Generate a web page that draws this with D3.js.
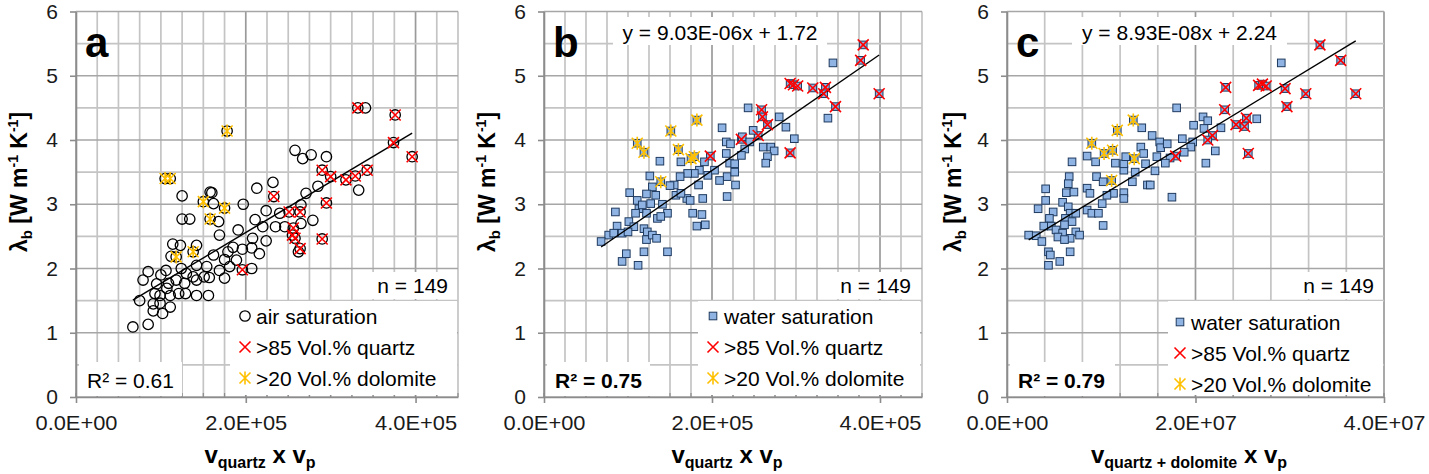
<!DOCTYPE html>
<html>
<head>
<meta charset="utf-8">
<script src="https://cdn.jsdelivr.net/npm/d3@7"></script>
<style>
body { margin: 0; background: #fff; }
svg { font-family: "Liberation Sans", Arial, sans-serif; }
</style>
</head>
<body>
<svg width="1429" height="474"></svg>
<script>
// ---- data ----
// panel a: air saturation, x = v_quartz * v_p
var airA = [[341e3,4.50],[332e3,4.50],[376e3,4.39],[178e3,4.14],[258e3,3.84],[267e3,3.71],[277e3,3.77],[295e3,3.74],[374e3,3.96],[396e3,3.74],
  [105e3,3.40],[111e3,3.40],[290e3,3.53],[300e3,3.43],[318e3,3.38],[329e3,3.44],[343e3,3.53],[333e3,3.22],[232e3,3.34],[233e3,3.12],
  [213e3,3.25],[125e3,3.13],[158e3,3.19],[160e3,3.18],[285e3,3.28],[271e3,3.17],[150e3,3.04],[162e3,3.01],[175e3,2.94],[197e3,3.00],
  [295e3,3.02],[265e3,2.99],[251e3,2.88],[264e3,2.88],[125e3,2.77],[134e3,2.77],[158e3,2.77],[168e3,2.73],[224e3,2.90],[240e3,2.86],
  [279e3,2.75],[211e3,2.76],[220e3,2.65],[235e3,2.65],[246e3,2.65],[256e3,2.63],[265e3,2.70],[169e3,2.52],[191e3,2.60],[255e3,2.52],
  [258e3,2.47],[264e3,2.31],[262e3,2.26],[290e3,2.46],[208e3,2.47],[224e3,2.43],[207e3,2.32],[196e3,2.30],[216e3,2.23],[207e3,2.00],
  [196e3,1.98],[185e3,2.33],[179e3,2.26],[175e3,2.14],[189e3,2.13],[181e3,2.03],[175e3,1.85],[162e3,2.21],[154e3,2.03],[157e3,1.86],
  [156e3,1.58],[142e3,2.05],[138e3,1.87],[142e3,1.58],[129e3,1.61],[114e3,2.38],[123e3,2.36],[142e3,2.36],[112e3,2.19],[118e3,2.18],
  [138e3,2.26],[124e3,2.00],[118e3,1.82],[128e3,1.77],[121e3,1.61],[106e3,1.97],[100e3,1.90],[85e3,1.95],[79e3,1.82],[95e3,1.76],
  [107e3,1.69],[99e3,1.58],[111e3,1.58],[93e3,1.61],[75e3,1.50],[91e3,1.45],[99e3,1.46],[111e3,1.40],[91e3,1.34],[102e3,1.30],
  [85e3,1.13],[67e3,1.09],[142e3,1.82],[151e3,1.87],[169e3,1.97],[109e3,1.77],[130e3,1.92]];
var quartzA = [[332e3,4.50],[376e3,4.39],[374e3,3.96],[396e3,3.74],[290e3,3.53],[300e3,3.43],[318e3,3.38],[329e3,3.44],[343e3,3.53],[233e3,3.12],
  [295e3,3.02],[251e3,2.88],[264e3,2.88],[256e3,2.63],[255e3,2.52],[258e3,2.47],[264e3,2.31],[290e3,2.46],[196e3,1.98]];
var dolomiteA = [[178e3,4.14],[105e3,3.40],[111e3,3.40],[150e3,3.04],[175e3,2.94],[158e3,2.77],[118e3,2.18],[138e3,2.26]];

// panel b: water saturation, x = v_quartz * v_p
var waterB = [[380e3,5.48],[377e3,5.24],[344e3,5.20],[293e3,4.88],[297e3,4.86],[302e3,4.84],[320e3,4.81],[335e3,4.82],[333e3,4.72],[399e3,4.72],
  [347e3,4.52],[338e3,4.34],[243e3,4.50],[259e3,4.47],[260e3,4.36],[266e3,4.24],[280e3,4.36],[288e3,4.20],[298e3,4.02],[293e3,3.80],
  [255e3,4.07],[249e3,4.15],[235e3,4.01],[212e3,4.19],[217e3,3.97],[222e3,3.94],[236e3,4.05],[245e3,3.97],[239e3,3.86],[235e3,3.76],
  [261e3,3.89],[270e3,3.89],[274e3,3.83],[266e3,3.74],[264e3,3.64],[198e3,3.75],[111e3,3.95],[119e3,3.81],[151e3,4.14],[160e3,3.85],
  [182e3,4.31],[175e3,3.71],[179e3,3.74],[139e3,3.35],[217e3,3.79],[221e3,3.64],[227e3,3.63],[218e3,3.43],[227e3,3.50],[203e3,3.53],
  [209e3,3.37],[195e3,3.45],[191e3,3.66],[228e3,3.30],[218e3,3.12],[163e3,3.66],[185e3,3.53],[179e3,3.48],[171e3,3.48],[162e3,3.43],
  [155e3,3.30],[157e3,3.14],[170e3,3.09],[174e3,3.06],[177e3,2.86],[184e3,3.30],[189e3,3.09],[188e3,2.84],[182e3,2.66],[192e3,2.68],
  [138e3,3.67],[126e3,3.44],[129e3,3.27],[122e3,3.16],[133e3,3.14],[127e3,3.01],[141e3,3.00],[147e3,2.86],[135e3,2.78],[139e3,2.81],
  [122e3,2.86],[102e3,3.18],[111e3,3.06],[113e3,2.93],[109e3,2.86],[117e3,2.99],[85e3,2.88],[101e3,2.73],[107e3,2.65],[87e3,2.66],
  [93e3,2.55],[100e3,2.57],[77e3,2.52],[83e3,2.55],[68e3,2.42],[119e3,2.62],[123e3,2.57],[122e3,2.45],[129e3,2.52],[134e3,2.47],
  [98e3,2.23],[93e3,2.11],[119e3,2.26],[112e3,2.05],[147e3,2.26],[163e3,3.17],[150e3,3.29]];
var quartzB = [[380e3,5.48],[377e3,5.24],[293e3,4.88],[297e3,4.86],[302e3,4.84],[320e3,4.81],[335e3,4.82],[333e3,4.72],[399e3,4.72],[347e3,4.52],
  [259e3,4.47],[260e3,4.36],[266e3,4.24],[293e3,3.80],[255e3,4.07],[235e3,4.01],[198e3,3.75]];
var dolomiteB = [[111e3,3.95],[119e3,3.81],[151e3,4.14],[160e3,3.85],[182e3,4.31],[175e3,3.71],[179e3,3.74],[139e3,3.35]];

// panel c: water saturation, x = v_quartz+dolomite * v_p
var waterC = [[33.2e6,5.48],[35.4e6,5.24],[29.1e6,5.20],[23.2e6,4.82],[26.7e6,4.85],[27.1e6,4.87],[27.5e6,4.84],[29.5e6,4.80],[31.7e6,4.72],[37.0e6,4.72],
  [29.7e6,4.52],[23.1e6,4.47],[18.0e6,4.50],[26.5e6,4.33],[25.4e6,4.34],[24.3e6,4.24],[25.2e6,4.21],[22.7e6,4.19],[25.6e6,3.79],[20.8e6,4.36],
  [21.3e6,4.30],[20.9e6,4.18],[21.8e6,4.07],[21.3e6,4.00],[22.1e6,3.83],[21.1e6,3.64],[19.8e6,4.23],[19.7e6,3.97],[19.5e6,3.89],[18.6e6,4.02],
  [18.8e6,3.81],[17.9e6,3.75],[17.3e6,3.72],[16.8e6,3.64],[15.4e6,4.07],[16.2e6,3.97],[16.3e6,3.88],[17.0e6,3.94],[14.3e6,4.19],[14.2e6,3.89],
  [14.5e6,3.79],[15.9e6,3.74],[14.7e6,3.63],[15.7e6,3.52],[14.9e6,3.30],[15.2e6,3.30],[13.3e6,3.35],[13.6e6,3.50],[12.4e6,3.53],[12.4e6,3.63],
  [11.5e6,3.64],[12.6e6,3.74],[11.3e6,3.17],[12.4e6,3.18],[12.4e6,3.09],[9.0e6,3.95],[10.3e6,3.79],[11.2e6,3.84],[11.7e6,4.15],[13.4e6,4.31],
  [13.5e6,3.71],[11.1e6,3.37],[8.5e6,3.75],[9.4e6,3.66],[9.5e6,3.43],[10.2e6,3.35],[8.5e6,3.25],[8.8e6,3.17],[10.6e6,3.14],[10.1e6,3.01],
  [8.5e6,2.91],[9.0e6,2.86],[9.7e6,2.86],[10.2e6,2.67],[6.9e6,3.66],[6.6e6,3.43],[6.5e6,3.32],[6.3e6,3.18],[7.1e6,3.19],[5.9e6,3.03],
  [4.1e6,3.24],[4.1e6,3.06],[3.3e6,2.93],[4.9e6,2.88],[4.5e6,2.78],[6.5e6,2.96],[6.7e6,2.86],[7.3e6,2.86],[6.2e6,2.78],[6.9e6,2.73],
  [6.1e6,2.68],[3.9e6,2.66],[4.7e6,2.66],[5.2e6,2.60],[5.9e6,2.55],[7.3e6,2.57],[5.4e6,2.49],[6.7e6,2.47],[6.1e6,2.45],[7.7e6,2.52],
  [2.3e6,2.52],[3.1e6,2.51],[3.7e6,2.42],[4.4e6,2.26],[4.6e6,2.21],[5.6e6,2.11],[6.7e6,2.26],[4.4e6,2.05],[17.5e6,3.11]];
var quartzC = [[33.2e6,5.48],[35.4e6,5.24],[23.2e6,4.82],[26.7e6,4.85],[27.1e6,4.87],[27.5e6,4.84],[29.5e6,4.80],[31.7e6,4.72],[37.0e6,4.72],[29.7e6,4.52],
  [23.1e6,4.47],[25.4e6,4.34],[24.3e6,4.24],[25.2e6,4.21],[25.6e6,3.79],[21.8e6,4.07],[21.3e6,4.00],[17.9e6,3.75]];
var dolomiteC = [[9.0e6,3.95],[10.3e6,3.79],[11.2e6,3.84],[11.7e6,4.15],[13.4e6,4.31],[13.5e6,3.71],[11.1e6,3.37]];

// linear fits (slope, intercept) and fit labels
var fitSlope = [7.9e-6, 9.03e-6, 8.93e-8];
var fitIntercept = [0.98, 1.72, 2.24];
var fitEquation = [null, "y = 9.03E-06x + 1.72", "y = 8.93E-08x + 2.24"];
var r2Text = ["R² = 0.61", "R² = 0.75", "R² = 0.79"];
var nText = "n = 149";
var legendLabels = [["air saturation", ">85 Vol.% quartz", ">20 Vol.% dolomite"],
                    ["water saturation", ">85 Vol.% quartz", ">20 Vol.% dolomite"],
                    ["water saturation", ">85 Vol.% quartz", ">20 Vol.% dolomite"]];
var panelLetters = ["a", "b", "c"];
var xMaxes = [4.5e5, 4.5e5, 4e7];
var xGridSteps = [2.5e4, 2.5e4, 4e6];
var xLabelSteps = [2e5, 2e5, 2e7];
var yTicks = [0, 1, 2, 3, 4, 5, 6];

var svg = d3.select("svg");
var plotTop = 11.5, plotBottom = 397;

function sci(v) {
  if (v === 0) return "0.0E+00";
  var e = Math.floor(Math.log10(v) + 1e-9);
  var m = v / Math.pow(10, e);
  return m.toFixed(1) + "E+" + (e < 10 ? "0" : "") + e;
}

var panels = [
  {left: 76, right: 458, base: airA, shape: "circle", red: quartzA, yellow: dolomiteA,
   xlabelX: 260, sub: "quartz", ylabelX: 19,
   r2Box: [79, 182], nBox: [372, 455], legBox: [230, 457], legMarkX: 245, legRow0: 316},
  {left: 544, right: 922, base: waterB, shape: "square", red: quartzB, yellow: dolomiteB,
   xlabelX: 727, sub: "quartz", ylabelX: 487, eqBox: [613, 827],
   r2Box: [547, 650], nBox: [832, 918], legBox: [698, 920], legMarkX: 713, legRow0: 316},
  {left: 1007, right: 1384, base: waterC, shape: "square", red: quartzC, yellow: dolomiteC,
   xlabelX: 1189, sub: "quartz + dolomite", ylabelX: 953, eqBox: [1072, 1287],
   r2Box: [1010, 1115], nBox: [1298, 1381], legBox: [1168, 1383], legMarkX: 1180, legRow0: 322}
];

function drawCircle(g, x, y) {
  g.append("circle").attr("cx", x).attr("cy", y).attr("r", 5.2)
    .attr("fill", "none").attr("stroke", "#000").attr("stroke-width", 1.3);
}
function drawSquare(g, x, y) {
  g.append("rect").attr("x", x - 3.8).attr("y", y - 3.8).attr("width", 7.6).attr("height", 7.6)
    .attr("fill", "#8fb4e3").attr("stroke", "#1f3a5f").attr("stroke-width", 1);
}
function drawCross(g, x, y) {
  var s = 5.5;
  g.append("path").attr("d", "M" + (x - s) + "," + (y - s) + "L" + (x + s) + "," + (y + s) +
      "M" + (x - s) + "," + (y + s) + "L" + (x + s) + "," + (y - s))
    .attr("stroke", "#ff0000").attr("stroke-width", 1.6).attr("fill", "none");
}
function drawStar(g, x, y) {
  var s = 5.5;
  g.append("path").attr("d", "M" + (x - s) + "," + (y - s) + "L" + (x + s) + "," + (y + s) +
      "M" + (x - s) + "," + (y + s) + "L" + (x + s) + "," + (y - s) +
      "M" + x + "," + (y - s - 1) + "L" + x + "," + (y + s + 1))
    .attr("stroke", "#ffc000").attr("stroke-width", 1.6).attr("fill", "none");
}

panels.forEach(function(p, i) {
  var x = d3.scaleLinear().domain([0, xMaxes[i]]).range([p.left, p.right]);
  var y = d3.scaleLinear().domain([0, 6]).range([plotBottom, plotTop]);
  var g = svg.append("g");

  // grid
  var xs = d3.range(0, xMaxes[i] + xGridSteps[i] / 2, xGridSteps[i]);
  var ys = d3.range(0, 6.01, 0.5);
  g.selectAll(".vg").data(xs).enter().append("line")
    .attr("x1", function(d) { return x(d); }).attr("x2", function(d) { return x(d); })
    .attr("y1", plotTop).attr("y2", plotBottom)
    .attr("stroke", function(d) { return Math.abs(d / xLabelSteps[i] - Math.round(d / xLabelSteps[i])) < 1e-6 ? "#9a9a9a" : "#c4c4c4"; })
    .attr("stroke-width", 1.7);
  g.selectAll(".hg").data(ys).enter().append("line")
    .attr("x1", p.left).attr("x2", p.right)
    .attr("y1", function(d) { return y(d); }).attr("y2", function(d) { return y(d); })
    .attr("stroke", function(d) { return d % 1 === 0 ? "#a6a6a6" : "#c4c4c4"; })
    .attr("stroke-width", 1.7);

  // axes
  var xAxis = d3.axisBottom(x).tickValues(d3.range(0, xMaxes[i] + 1, xLabelSteps[i]))
    .tickFormat(sci).tickSize(6).tickSizeOuter(0).tickPadding(9);
  var ax = g.append("g").attr("transform", "translate(0," + plotBottom + ")").call(xAxis);
  ax.select(".domain").attr("stroke", "#8c8c8c").attr("stroke-width", 1.6);
  ax.selectAll(".tick line").attr("stroke", "#8c8c8c").attr("stroke-width", 1.6);
  ax.selectAll(".tick text").attr("font-size", 21).attr("font-family", "Liberation Sans, Arial")
    .attr("fill", "#1a1a1a").attr("dy", "0.85em").attr("textLength", 82).attr("lengthAdjust", "spacingAndGlyphs");

  var yAxis = d3.axisLeft(y).tickValues(yTicks).tickFormat(d3.format("d")).tickSize(6).tickSizeOuter(0).tickPadding(12);
  var ay = g.append("g").attr("transform", "translate(" + p.left + ",0)").call(yAxis);
  ay.select(".domain").attr("stroke", "#8c8c8c").attr("stroke-width", 1.6);
  ay.selectAll(".tick line").attr("stroke", "#8c8c8c").attr("stroke-width", 1.6);
  ay.selectAll(".tick text").attr("font-size", 21).attr("font-family", "Liberation Sans, Arial").attr("fill", "#1a1a1a");

  // minor ticks on the bottom axis
  g.selectAll(".mt").data(xs).enter().append("line")
    .attr("x1", function(d) { return x(d); }).attr("x2", function(d) { return x(d); })
    .attr("y1", plotBottom - 4).attr("y2", plotBottom).attr("stroke", "#8c8c8c").attr("stroke-width", 1.2);

  // base markers
  var mk = g.append("g");
  p.base.forEach(function(d) {
    if (p.shape === "circle") drawCircle(mk, x(d[0]), y(d[1]));
    else drawSquare(mk, x(d[0]), y(d[1]));
  });

  // trend line
  var xe = d3.extent(p.base, function(d) { return d[0]; });
  g.append("line")
    .attr("x1", x(xe[0])).attr("y1", y(fitSlope[i] * xe[0] + fitIntercept[i]))
    .attr("x2", x(xe[1])).attr("y2", y(fitSlope[i] * xe[1] + fitIntercept[i]))
    .attr("stroke", "#000").attr("stroke-width", 1.4);

  // overlay markers
  var ov = g.append("g");
  p.red.forEach(function(d) { drawCross(ov, x(d[0]), y(d[1])); });
  p.yellow.forEach(function(d) { drawStar(ov, x(d[0]), y(d[1])); });

  // panel letter
  g.append("text").attr("x", p.left + 9).attr("y", 57).attr("font-size", 42)
    .attr("font-weight", "bold").text(panelLetters[i]);

  // equation box
  if (fitEquation[i]) {
    g.append("rect").attr("x", p.eqBox[0]).attr("y", 17).attr("width", p.eqBox[1] - p.eqBox[0]).attr("height", 28)
      .attr("fill", "#fff");
    g.append("text").attr("x", (p.eqBox[0] + p.eqBox[1]) / 2).attr("y", 40).attr("text-anchor", "middle")
      .attr("font-size", 21).text(fitEquation[i]);
  }

  // n box
  g.append("rect").attr("x", p.nBox[0]).attr("y", 272).attr("width", p.nBox[1] - p.nBox[0]).attr("height", 27).attr("fill", "#fff");
  g.append("text").attr("x", p.nBox[1] - 7).attr("y", 293).attr("text-anchor", "end").attr("font-size", 21).text(nText);

  // legend box
  g.append("rect").attr("x", p.legBox[0]).attr("y", 301).attr("width", p.legBox[1] - p.legBox[0]).attr("height", 94).attr("fill", "#fff");
  legendLabels[i].forEach(function(lbl, k) {
    var cy = p.legRow0 + k * 31;
    var lg = g.append("g");
    if (k === 0) { if (p.shape === "circle") drawCircle(lg, p.legMarkX, cy); else drawSquare(lg, p.legMarkX, cy); }
    if (k === 1) drawCross(lg, p.legMarkX, cy);
    if (k === 2) drawStar(lg, p.legMarkX, cy);
    g.append("text").attr("x", p.legMarkX + 11).attr("y", cy + 7.5).attr("font-size", 21).text(lbl);
  });

  // R² box
  g.append("rect").attr("x", p.r2Box[0]).attr("y", 362).attr("width", p.r2Box[1] - p.r2Box[0]).attr("height", 34).attr("fill", "#fff");
  g.append("text").attr("x", p.r2Box[0] + 8).attr("y", 388).attr("font-size", 21)
    .attr("font-weight", i === 0 ? "normal" : "bold").text(r2Text[i]);

  // y label
  var yl = g.append("text").attr("transform", "translate(" + (p.ylabelX + 8) + ",182) rotate(-90)")
    .attr("text-anchor", "middle").attr("font-size", 23).attr("font-weight", "bold");
  yl.append("tspan").text("λ");
  yl.append("tspan").attr("font-size", 15).attr("dy", 5).text("b");
  yl.append("tspan").attr("dy", -5).text(" [W m");
  yl.append("tspan").attr("font-size", 14).attr("dy", -9).text("-1");
  yl.append("tspan").attr("dy", 9).text(" K");
  yl.append("tspan").attr("font-size", 14).attr("dy", -9).text("-1");
  yl.append("tspan").attr("dy", 9).text("]");

  // x label
  var xl = g.append("text").attr("x", p.xlabelX).attr("y", 463).attr("text-anchor", "middle")
    .attr("font-size", 24).attr("font-weight", "bold");
  xl.append("tspan").text("v");
  xl.append("tspan").attr("font-size", 16).attr("dy", 5).text(p.sub);
  xl.append("tspan").attr("dy", -5).text(i === 2 ? "  x " : " x ");
  xl.append("tspan").text("v");
  xl.append("tspan").attr("font-size", 16).attr("dy", 5).text("p");
});
</script>
</body>
</html>
